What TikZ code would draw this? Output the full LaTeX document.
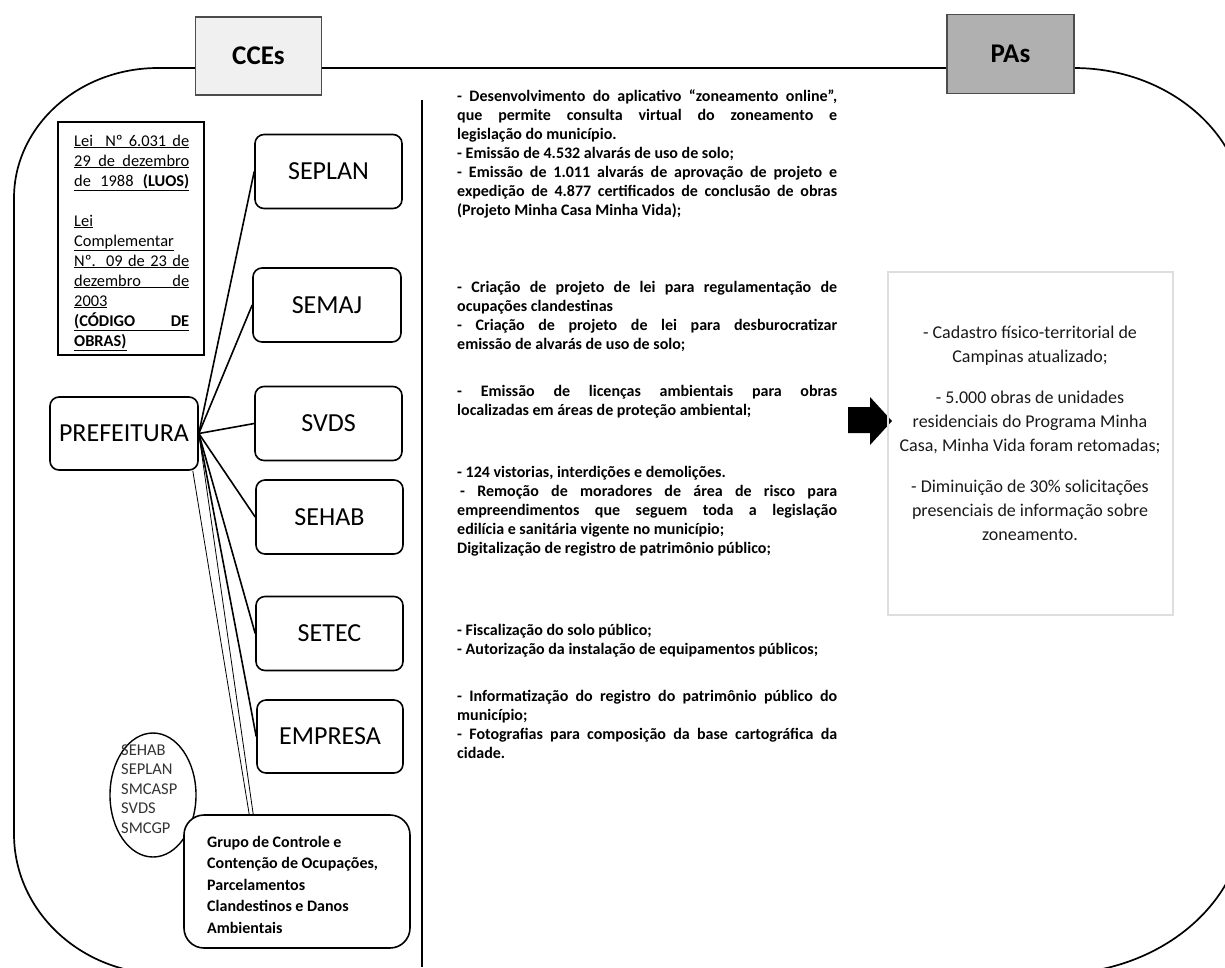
\documentclass[tikz,border=0pt]{standalone}
\usepackage{fontspec}
\setmainfont{Carlito}
\usetikzlibrary{shapes.geometric}
\newlength\colw \setlength\colw{380pt}
\newlength\laww \setlength\laww{115pt}
% justified line of the middle column
\newcommand\jl[1]{\makebox[\colw][s]{#1}}
% underlined line of the law box, justified or not
\newcommand\jlaw[1]{\underline{\makebox[\laww][s]{#1}}}
\newcommand\ulaw[1]{\underline{#1}}
\begin{document}
\begin{tikzpicture}[x=1pt,y=-1pt,
  outline/.style={line width=1.7pt},
  orgbox/.style={draw, line width=1.6pt, rounded corners=9pt, fill=white,
    minimum width=147pt, minimum height=74pt, inner sep=0pt,
    font=\fontsize{26}{30}\selectfont},
  tab/.style={draw=black!70, line width=1.4pt, minimum width=126pt,
    minimum height=78pt, inner sep=0pt, font=\fontsize{27}{30}\selectfont\bfseries},
  conn/.style={line width=1.6pt},
  thinconn/.style={line width=0.8pt},
  midtxt/.style={anchor=base west, inner sep=0pt, font=\fontsize{16}{19}\selectfont\bfseries},
  lawtxt/.style={anchor=base west, inner sep=0pt, font=\fontsize{16.4}{20}\selectfont},
  elltxt/.style={anchor=base west, inner sep=0pt, text=black!80, font=\fontsize{16.5}{20}\selectfont},
  grptxt/.style={anchor=base west, inner sep=0pt, font=\fontsize{16}{20}\selectfont\bfseries},
  restxt/.style={anchor=base, inner sep=0pt, text=black!90, font=\fontsize{18}{24}\selectfont},
]
\useasboundingbox (0,0) rectangle (1225,967);
\clip (0,0) rectangle (1225,967);

% outer frame with its rounded corners
\draw[outline] (14,198) .. controls (14,126.2) and (78.5,68) .. (158,68)
  -- (1074,68) .. controls (1168.4,68) and (1245,134.2) .. (1245,214)
  -- (1245,814) .. controls (1245,902.4) and (1159.9,974) .. (1055,974)
  -- (164,974) .. controls (81.2,974) and (14,911.3) .. (14,834) -- cycle;

% column divider
\coordinate (divtop) at (422,100);
\coordinate (divbot) at (422,967);
\draw[line width=1.6pt] (divtop) -- (divbot);

% header tabs
\node[tab, fill=black!6] (cces) at (258.5,56) {CCEs};
\node[tab, fill=black!31, minimum width=127pt, minimum height=79pt] (pas) at (1010.5,54) {PAs};

% law box
\node[draw, line width=1.6pt, fill=white, minimum width=146pt, minimum height=233pt, inner sep=0pt] (law) at (131,238.5) {};
\foreach \yy/\ltext [count=\i] in {
  146/{\jlaw{Lei \ Nº 6.031 de}},
  166/{\jlaw{29 de dezembro}},
  186/{\jlaw{de 1988 \textbf{(LUOS)}}},
  226/{\ulaw{Lei}},
  246/{\ulaw{Complementar}},
  266/{\jlaw{Nº. 09 de 23 de}},
  286/{\jlaw{dezembro de}},
  306/{\ulaw{2003}},
  326/{\jlaw{\textbf{(CÓDIGO DE}}},
  346/{\ulaw{\textbf{OBRAS)}}}}
  \node[lawtxt] (law\i) at (74,\yy) {\ltext};

% prefeitura and the secretariats
\node[orgbox, minimum width=148pt, minimum height=73pt] (pref) at (124,433.5) {PREFEITURA};
\node[orgbox] (seplan) at (328.5,171.5) {SEPLAN};
\node[orgbox, minimum width=148pt] (semaj) at (327,305) {SEMAJ};
\node[orgbox] (svds) at (328.5,423.5) {SVDS};
\node[orgbox] (sehab) at (329.5,517) {SEHAB};
\node[orgbox] (setec) at (329.5,633.5) {SETEC};
\node[orgbox, minimum width=146pt, minimum height=73pt] (empresa) at (330,736.5) {EMPRESA};

% ellipse of members, partly covered by the group box
\node[draw, ellipse, line width=1.4pt, minimum width=86pt, minimum height=124pt, inner sep=0pt] (ell) at (153,795) {};
\foreach \yy/\ltext [count=\i] in {755/SEHAB, 774.5/SEPLAN, 794/SMCASP, 813.5/SVDS, 833/SMCGP}
  \node[elltxt] (ell\i) at (121,\yy) {\ltext};
\node[draw, line width=1.6pt, rounded corners=20pt, fill=white, minimum width=226pt, minimum height=133pt, inner sep=0pt] (grp) at (297,881.5) {};
\foreach \yy/\ltext [count=\i] in {
  847/{Grupo de Controle e},
  868.5/{Contenção de Ocupações,},
  890/{Parcelamentos},
  911.5/{Clandestinos e Danos},
  933/{Ambientais}}
  \node[grptxt] (grp\i) at (207,\yy) {\ltext};

% connectors from the prefeitura
\coordinate (g1) at ([xshift=70pt]grp.north west);
\coordinate (g2) at ([xshift=66pt]grp.north west);
\draw[conn] (pref.east) -- (seplan.west);
\draw[conn] (pref.east) -- (semaj.west);
\draw[conn] (pref.east) -- (svds.west);
\draw[conn] (pref.east) -- (sehab.west);
\draw[conn] (pref.east) -- (setec.west);
\draw[conn] (pref.east) -- (empresa.west);
\draw[thinconn] (pref.east) -- (g1);
\draw[thinconn] ([xshift=-6pt]pref.south east) -- (g2);

% middle column: actions
\foreach \yy/\ltext [count=\i] in {
  101/{\jl{- Desenvolvimento do aplicativo “zoneamento online”,}},
  120/{\jl{que permite consulta virtual do zoneamento e}},
  139/{legislação do município.},
  158/{- Emissão de 4.532 alvarás de uso de solo;},
  177/{\jl{- Emissão de 1.011 alvarás de aprovação de projeto e}},
  196/{\jl{expedição de 4.877 certificados de conclusão de obras}},
  215/{(Projeto Minha Casa Minha Vida);},
  292.5/{\jl{- Criação de projeto de lei para regulamentação de}},
  311.5/{ocupações clandestinas},
  330.5/{\jl{- Criação de projeto de lei para desburocratizar}},
  349.5/{emissão de alvarás de uso de solo;},
  396/{\jl{- Emissão de licenças ambientais para obras}},
  415/{localizadas em áreas de proteção ambiental;},
  477/{- 124 vistorias, interdições e demolições.},
  496/{\jl{\hspace{3pt}- Remoção de moradores de área de risco para}},
  515/{\jl{empreendimentos que seguem toda a legislação}},
  534/{edilícia e sanitária vigente no município;},
  553/{Digitalização de registro de patrimônio público;},
  635.5/{- Fiscalização do solo público;},
  654.5/{- Autorização da instalação de equipamentos públicos;},
  701.5/{\jl{- Informatização do registro do patrimônio público do}},
  720.5/{município;},
  739.5/{\jl{- Fotografias para composição da base cartográfica da}},
  758.5/{cidade.}}
  \node[midtxt] (act\i) at (457,\yy) {\ltext};

% block arrow towards the results
\fill (848,407) -- (870,407) -- (870,397) -- (892,421) -- (870,445) -- (870,433) -- (848,433) -- cycle;

% results box
\node[draw=black!13, line width=1.6pt, minimum width=285pt, minimum height=343pt, inner sep=0pt] (res) at (1030.5,443.5) {};
\foreach \yy/\ltext [count=\i] in {
  338/{- Cadastro físico-territorial de},
  362/{Campinas atualizado;},
  403/{- 5.000 obras de unidades},
  427/{residenciais do Programa Minha},
  451/{Casa, Minha Vida foram retomadas;},
  492/{- Diminuição de 30\% solicitações},
  516/{presenciais de informação sobre},
  540/{zoneamento.}}
  \node[restxt] (res\i) at (1030,\yy) {\ltext};
\end{tikzpicture}
\end{document}
